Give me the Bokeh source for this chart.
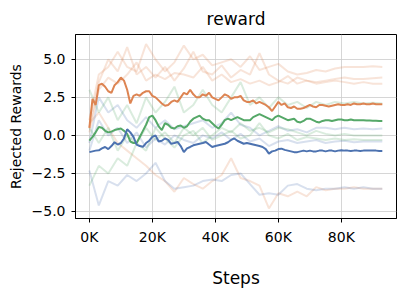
from bokeh.plotting import figure
from bokeh.models import Range1d, FixedTicker
from bokeh.embed import file_html
from bokeh.resources import INLINE

# steps in thousands
steps_k = list(range(0, 94))
faint_steps_k = list(range(0, 94, 3))

orange_mean = [0.5, 2.4, 2.0, 3.3, 3.4, 3.2, 2.9, 2.8, 3.3, 3.5,
               3.8, 3.6, 3.0, 2.1, 2.6, 2.7, 2.6, 2.8, 2.9, 2.9,
               2.6, 2.5, 2.3, 2.1, 1.95, 2.0, 2.2, 2.3, 2.2, 2.5,
               2.8, 2.7, 3.0, 2.7, 2.5, 2.5, 2.7, 2.6, 2.8, 2.5,
               2.4, 2.3, 2.5, 2.7, 2.6, 2.4, 2.5, 2.5, 2.6, 2.3,
               2.2, 2.2, 2.3, 2.1, 2.2, 2.1, 2.0, 1.85, 1.6, 1.9,
               2.2, 2.0, 2.1, 1.85, 1.8, 1.9, 1.75, 1.75, 1.8, 1.9,
               2.0, 1.9, 1.85, 2.0, 2.0, 1.95, 1.9, 1.95, 2.0, 2.05,
               2.0, 2.0, 2.05, 2.0, 2.1, 2.05, 2.05, 2.1, 2.05, 2.05,
               2.1, 2.05, 2.05, 2.05]

green_mean = [-0.35, -0.1, 0.2, 0.55, 0.5, 0.3, 0.2, 0.25, 0.35, 0.4,
              0.45, 0.3, 0.1, -0.4, -0.5, -0.5, -0.1, 0.3, 0.7, 1.2,
              1.3, 1.0, 0.6, 0.35, 0.8, 0.7, 0.5, 0.45, 0.6, 0.65,
              0.5, 0.6, 0.9, 1.1, 1.2, 1.3, 1.1, 1.0, 1.0, 0.8,
              0.6, 0.45, 0.7, 1.0, 1.1, 1.0, 1.1, 1.2, 1.1, 1.0,
              1.0, 1.0, 1.2, 1.3, 1.4, 1.3, 1.2, 1.1, 1.0, 1.2,
              1.3, 1.2, 1.1, 1.0, 1.05, 1.1, 0.9, 0.85, 0.95, 1.1,
              1.1, 1.0, 0.9, 0.85, 0.95, 1.0, 1.0, 0.95, 1.0, 1.05,
              1.05, 1.0, 1.0, 1.05, 1.0, 1.0, 1.0, 1.0, 0.98, 0.98,
              0.97, 0.96, 0.95, 0.95]

blue_mean = [-1.1, -1.05, -1.0, -0.98, -0.85, -0.76, -0.9, -0.7, -0.45, -0.6,
             -0.5, -0.2, 0.4, 0.2, -0.1, -0.6, -0.7, -0.75, -0.5, -0.35,
             -0.1, 0.0, -0.4, -0.35, -0.2, -0.3, -0.55, -0.5, -0.43, -0.7,
             -1.1, -0.85, -0.76, -0.65, -0.6, -0.55, -0.5, -0.43, -0.6, -0.76,
             -0.7, -0.65, -0.6, -0.55, -0.45, -0.3, -0.2, -0.35, -0.45, -0.55,
             -0.5, -0.55, -0.6, -0.65, -0.7, -0.76, -0.9, -1.2, -1.05, -1.0,
             -0.9, -0.87, -0.95, -1.0, -1.05, -1.1, -1.1, -1.05, -1.0, -1.05,
             -1.0, -1.05, -1.05, -1.0, -1.0, -1.05, -1.0, -1.0, -1.05, -1.0,
             -0.98, -1.0, -1.0, -1.02, -1.0, -1.0, -1.02, -1.0, -1.0, -1.0,
             -1.0, -1.0, -1.02, -1.02]

orange_runs = [
    [1.0, 4.0, 4.5, 5.5, 4.5, 4.2, 6.0, 5.0, 4.2, 4.8, 5.9, 5.0, 5.3, 4.6, 4.8, 5.0,
     4.5, 5.2, 4.3, 4.5, 4.7, 4.2, 4.0, 4.1, 4.3, 4.2, 4.4, 4.5, 4.5, 4.5, 4.55, 4.5],
    [0.5, 3.5, 5.0, 4.2, 5.8, 4.0, 4.5, 3.8, 4.5, 3.6, 4.4, 5.5, 4.2, 4.0, 4.6, 3.8,
     4.3, 4.0, 5.4, 4.0, 3.6, 3.4, 3.8, 3.6, 3.5, 3.6, 3.7, 3.8, 3.7, 3.7, 3.75, 3.8],
    [0.2, 3.0, 3.8, 3.4, 4.0, 4.8, 3.6, 4.0, 3.7, 4.1, 4.0, 3.8, 4.5, 3.6, 4.0, 3.5,
     3.7, 3.4, 3.6, 3.3, 3.5, 3.9, 3.4, 3.6, 3.4, 3.5, 3.6, 3.5, 3.4, 3.5, 3.4, 3.4],
    [0.8, 1.5, 0.5, -0.5, -1.0, -1.5, -2.0, -2.6, -3.0, -3.7, -2.8, -3.2, -3.5, -3.0, -2.6, -1.5,
     -2.8, -3.0, -3.3, -4.8, -3.8, -4.0, -3.7, -4.0, -3.4, -3.6, -3.5, -3.5, -3.4, -3.5, -3.5, -3.5],
]

blue_runs = [
    [-0.5, 2.5, 1.5, 2.0, 1.0, 0.5, 1.2, 0.5, 1.0, 0.4, 0.6, 0.8, 1.0, 0.5, 0.8, 1.5,
     0.7, 0.5, 0.0, 0.3, 0.6, 0.3, 0.4, 0.2, 0.5, 0.5, 0.4, 0.5, 0.4, 0.45, 0.4, 0.45],
    [-1.0, 1.0, 0.0, 0.5, -0.5, 0.2, -0.8, -0.2, -0.6, 0.0, -0.3, -0.5, 0.0, -0.2, 0.2, -0.3,
     0.1, -0.4, -0.2, -0.7, -0.4, -0.3, -0.5, -0.4, -0.3, -0.5, -0.4, -0.35, -0.45, -0.4, -0.4, -0.4],
    [-2.3, -4.6, -3.0, -3.3, -2.6, -3.0, -2.5, -1.8, -3.0, -3.5, -3.4, -3.3, -3.0, -2.9, -3.0, -2.6,
     -2.5, -3.2, -3.9, -3.8, -3.9, -3.3, -3.2, -3.5, -3.6, -3.5, -3.5, -3.4, -3.5, -3.4, -3.5, -3.5],
]

green_runs = [
    [3.0, 1.5, 2.5, 1.0, 2.0, 0.8, 2.5, 1.5, 2.2, 3.2, 1.5, 2.0, 3.0, 2.0, 1.5, 2.5,
     3.5, 2.0, 2.5, 1.8, 2.5, 2.0, 2.2, 1.8, 2.2, 2.0, 2.2, 2.1, 2.2, 2.1, 2.15, 2.1],
    [0.5, -0.5, 0.5, -1.0, 0.0, -0.5, 0.5, -0.3, 0.2, -0.5, 0.5, 0.0, 0.5, -0.3, 0.0, 0.3,
     -0.2, 0.0, 0.8, 0.0, -0.2, 0.1, -0.3, -0.1, -0.2, -0.3, -0.2, -0.3, -0.25, -0.3, -0.3, -0.3],
    [-3.3, -2.0, -2.5, -1.5, -2.0, -0.5, -1.0, 0.5, -0.2, -0.8, 0.0, 0.3, -0.5, 0.0, 0.5, 0.2,
     0.8, 0.3, 0.5, 0.2, 0.5, 0.4, 0.2, 0.0, 0.3, 0.1, 0.0, 0.1, 0.0, 0.0, 0.0, 0.0],
]

x_ticks = [0, 20000, 40000, 60000, 80000]
x_tick_labels = ["0K", "20K", "40K", "60K", "80K"]
y_ticks = [-5.0, -2.5, 0.0, 2.5, 5.0]
y_tick_labels = ["\u22125.0", "\u22122.5", "0.0", "2.5", "5.0"]

ORANGE = "#DD8452"
GREEN = "#55A868"
BLUE = "#4C72B0"
FONT = "DejaVu Sans"

p = figure(width=399, height=294, output_backend="svg", toolbar_location=None,
           x_range=Range1d(-4400, 97500), y_range=Range1d(-5.46, 6.63),
           min_border_left=75, min_border_right=3, min_border_top=33, min_border_bottom=76,
           title="reward")
p.title.align = "center"
p.title.text_font = FONT
p.title.text_font_style = "normal"
p.title.text_font_size = "17px"
p.title.text_color = "#000000"
p.title.standoff = 12

fx = [k * 1000 for k in faint_steps_k]
mx = [k * 1000 for k in steps_k]
for runs, col in ((orange_runs, ORANGE), (blue_runs, BLUE), (green_runs, GREEN)):
    for r in runs:
        p.line(fx, r, line_color=col, line_width=2, line_alpha=0.22)

p.line(mx, orange_mean, line_color=ORANGE, line_width=2)
p.line(mx, green_mean, line_color=GREEN, line_width=2)
p.line(mx, blue_mean, line_color=BLUE, line_width=2)

p.xaxis.ticker = FixedTicker(ticks=x_ticks)
p.xaxis.major_label_overrides = dict(zip(x_ticks, x_tick_labels))
p.yaxis.ticker = FixedTicker(ticks=y_ticks)
p.yaxis.major_label_overrides = dict(zip(y_ticks, y_tick_labels))

for ax in (p.xaxis, p.yaxis):
    ax.major_label_text_font = FONT
    ax.major_label_text_font_size = "14px"
    ax.major_label_text_color = "#000000"
    ax.major_label_standoff = 6
    ax.axis_label_text_font = FONT
    ax.axis_label_text_font_style = "normal"
    ax.axis_label_text_color = "#000000"
    ax.minor_tick_line_color = None
    ax.major_tick_in = 0
    ax.major_tick_out = 4
    ax.major_tick_line_color = "#000000"
    ax.axis_line_color = "#000000"

p.xaxis.axis_label = "Steps"
p.xaxis.axis_label_text_font_size = "17px"
p.xaxis.axis_label_standoff = 20
p.yaxis.axis_label = "Rejected Rewards"
p.yaxis.axis_label_text_font_size = "14px"
p.yaxis.axis_label_standoff = 5

p.outline_line_color = "#000000"
p.outline_line_alpha = 1
p.outline_line_width = 1
p.grid.grid_line_color = "#cccccc"
p.grid.grid_line_alpha = 0.8
p.background_fill_color = "white"
p.border_fill_color = "white"

open("out.html", "w").write(file_html(p, INLINE))
